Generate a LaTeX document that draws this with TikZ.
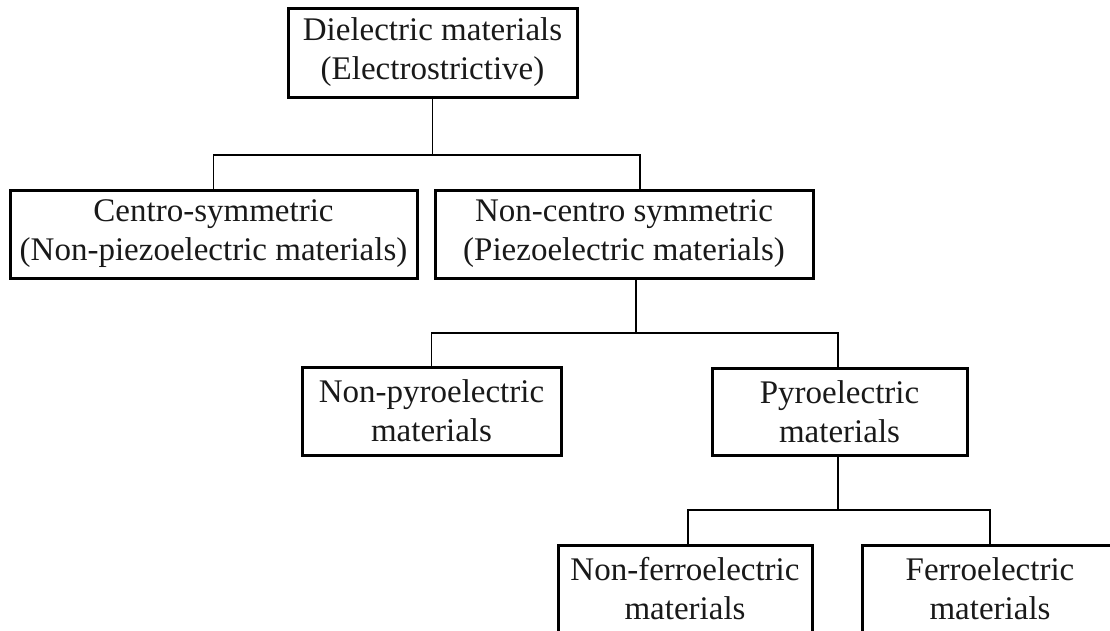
\documentclass[tikz,border=0pt]{standalone}
\usepackage{fontspec}
\setmainfont{Liberation Serif}
\begin{document}
\begin{tikzpicture}[x=1pt,y=-1pt,
  box/.style={draw=black, line width=3pt, align=center, inner sep=0pt,
    font=\fontsize{33}{39}\selectfont, text=black!90},
  conn/.style={draw=black, line width=1.7pt}]
\useasboundingbox (0,0) rectangle (1110,630);
\clip (0,0) rectangle (1110,630);
\node[box, minimum width=289pt, minimum height=89pt] (top) at (432.5,52.5) {Dielectric materials\\(Electrostrictive)};
\node[box, minimum width=407pt, minimum height=88pt] (centro) at (213.5,234) {Centro-symmetric\\(Non-piezoelectric materials)};
\node[box, minimum width=378pt, minimum height=88pt] (noncentro) at (624,234) {Non-centro symmetric\\(Piezoelectric materials)};
\node[box, minimum width=259pt, minimum height=88pt] (nonpyro) at (431.5,411) {Non-pyroelectric\\materials};
\node[box, minimum width=255pt, minimum height=87pt] (pyro) at (839.5,411.5) {Pyroelectric\\materials};
\node[box, minimum width=254pt, minimum height=88pt] (nonferro) at (685,589) {Non-ferroelectric\\materials};
\node[box, minimum width=256pt, minimum height=88pt] (ferro) at (990,589) {Ferroelectric\\materials};
\coordinate (j1) at (432.5,155);
\coordinate (j2) at (636,333);
\coordinate (j3) at (838,510);
\draw[conn] (top.south) -- (j1);
\draw[conn] (j1) -| (centro.north);
\draw[conn] (j1) -| ([xshift=16pt]noncentro.north);
\draw[conn] ([xshift=12pt]noncentro.south) -- (j2);
\draw[conn] (j2) -| (nonpyro.north);
\draw[conn] (j2) -| ([xshift=-1.5pt]pyro.north);
\draw[conn] ([xshift=-1.5pt]pyro.south) -- (j3);
\draw[conn] (j3) -| ([xshift=3pt]nonferro.north);
\draw[conn] (j3) -| (ferro.north);
\end{tikzpicture}
\end{document}
